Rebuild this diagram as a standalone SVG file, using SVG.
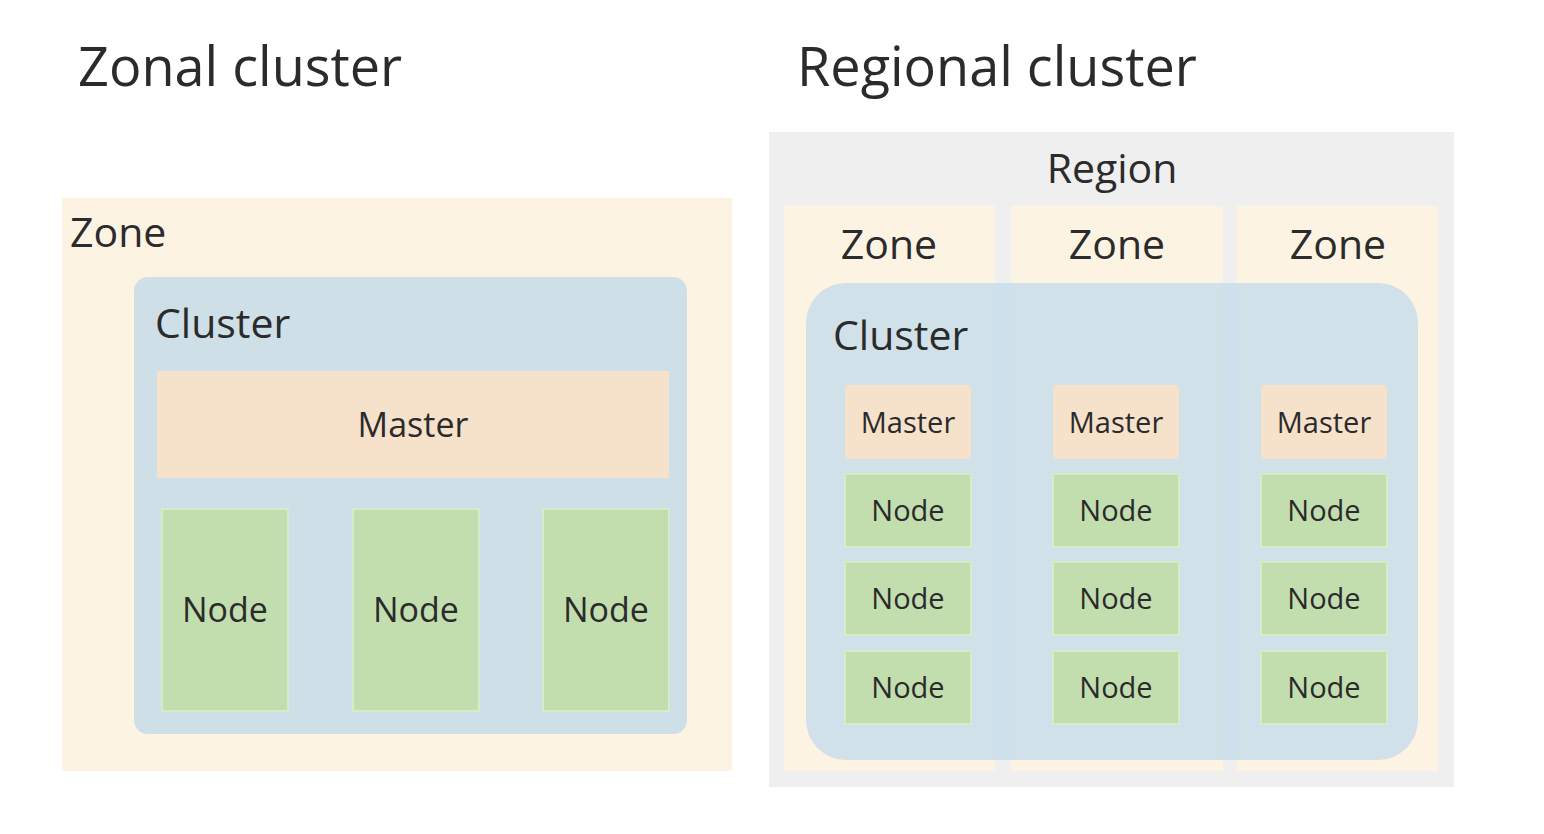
<svg xmlns="http://www.w3.org/2000/svg" width="1544" height="834" viewBox="0 0 1544 834">
<style>
text{font-family:"Open Sans","Liberation Sans",sans-serif;fill:#2b2b2b}
.title{font-size:54px}
.zone{fill:#fcf3e3}
.cl{fill:#cfdfe7}
.master{fill:#f6e2cb}
.node{fill:#c2deaf;stroke:#d6ebc8;stroke-width:2}
.lbl{font-size:41px}
.ml{font-size:34px;text-anchor:middle}
.sm{font-size:29px;text-anchor:middle}
</style>
<rect width="1544" height="834" fill="#ffffff"/>
<text class="title" x="78" y="86">Zonal cluster</text>
<text class="title" x="797" y="86">Regional cluster</text>

<g id="zonal-zone">
<rect class="zone" x="62" y="198" width="670" height="573"/>
<text class="lbl" x="70" y="247">Zone</text>
</g>
<g id="zonal-cluster">
<rect class="cl" x="134" y="277" width="553" height="457" rx="14"/>
<text class="lbl" x="155" y="338">Cluster</text>
</g>
<g id="zonal-master">
<rect class="master" x="157" y="371" width="512" height="107"/>
<text class="ml" x="413" y="437">Master</text>
</g>
<g id="zonal-node1"><rect class="node" x="162" y="509" width="126" height="202"/><text class="ml" x="225" y="622">Node</text></g>
<g id="zonal-node2"><rect class="node" x="353" y="509" width="126" height="202"/><text class="ml" x="416" y="622">Node</text></g>
<g id="zonal-node3"><rect class="node" x="543" y="509" width="126" height="202"/><text class="ml" x="606" y="622">Node</text></g>

<g id="region">
<rect x="769" y="132" width="685" height="655" fill="#efefef"/>
<text class="lbl" x="1112" y="183" text-anchor="middle">Region</text>
</g>
<g id="zone1"><rect class="zone" x="784" y="206" width="211" height="565"/><text class="lbl" x="889" y="259" text-anchor="middle">Zone</text></g>
<g id="zone2"><rect class="zone" x="1011" y="206" width="212" height="565"/><text class="lbl" x="1117" y="259" text-anchor="middle">Zone</text></g>
<g id="zone3"><rect class="zone" x="1237" y="206" width="201" height="565"/><text class="lbl" x="1338" y="259" text-anchor="middle">Zone</text></g>
<g id="regional-cluster">
<rect x="806" y="283" width="612" height="477" rx="40" fill="#c4dbea" opacity="0.78"/>
<text class="lbl" x="833" y="350">Cluster</text>
</g>
<g id="master1"><rect class="master" x="845" y="385" width="126" height="74"/><text class="sm" x="908" y="433">Master</text></g>
<g id="master2"><rect class="master" x="1053" y="385" width="126" height="74"/><text class="sm" x="1116" y="433">Master</text></g>
<g id="master3"><rect class="master" x="1261" y="385" width="126" height="74"/><text class="sm" x="1324" y="433">Master</text></g>
<g id="node-1-1"><rect class="node" x="845" y="474" width="126" height="73"/><text class="sm" x="908" y="521">Node</text></g>
<g id="node-2-1"><rect class="node" x="1053" y="474" width="126" height="73"/><text class="sm" x="1116" y="521">Node</text></g>
<g id="node-3-1"><rect class="node" x="1261" y="474" width="126" height="73"/><text class="sm" x="1324" y="521">Node</text></g>
<g id="node-1-2"><rect class="node" x="845" y="562" width="126" height="73"/><text class="sm" x="908" y="609">Node</text></g>
<g id="node-2-2"><rect class="node" x="1053" y="562" width="126" height="73"/><text class="sm" x="1116" y="609">Node</text></g>
<g id="node-3-2"><rect class="node" x="1261" y="562" width="126" height="73"/><text class="sm" x="1324" y="609">Node</text></g>
<g id="node-1-3"><rect class="node" x="845" y="651" width="126" height="73"/><text class="sm" x="908" y="698">Node</text></g>
<g id="node-2-3"><rect class="node" x="1053" y="651" width="126" height="73"/><text class="sm" x="1116" y="698">Node</text></g>
<g id="node-3-3"><rect class="node" x="1261" y="651" width="126" height="73"/><text class="sm" x="1324" y="698">Node</text></g>
<g id="connectors"></g>
</svg>
